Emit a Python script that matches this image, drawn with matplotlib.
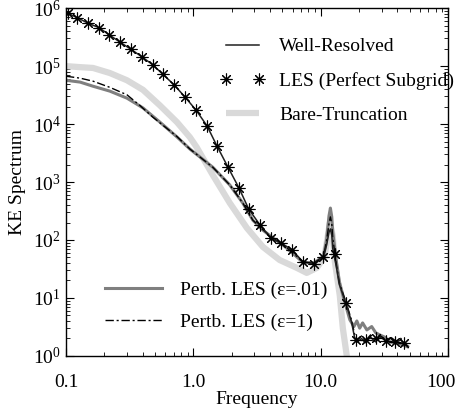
import matplotlib
matplotlib.use("Agg")
import matplotlib.pyplot as plt
import matplotlib.transforms as mtransforms
from matplotlib.ticker import FixedLocator, LogLocator, NullFormatter

plt.rcParams['font.family'] = ['Liberation Serif', 'DejaVu Serif']
plt.rcParams['mathtext.fontset'] = 'custom'
plt.rcParams['mathtext.rm'] = 'Liberation Serif'
plt.rcParams['mathtext.it'] = 'Liberation Serif:italic'
plt.rcParams['font.size'] = 14

# well-resolved spectrum
wr_freq = [0.1, 0.104, 0.122, 0.149, 0.182, 0.217, 0.265, 0.324, 0.394, 0.481, 0.577,
           0.703, 0.857, 1.05, 1.28, 1.53, 1.87, 2.28, 2.72, 3.33, 4.06, 4.85, 5.93,
           7.23, 8.81, 10.5, 11.1, 11.6, 11.9, 12.2, 12.4, 13.3, 14.0, 15.9, 17.4, 18.4, 19.4,
           20.9, 22.3, 24.6, 26.9, 29.5, 32.3, 35.4, 38.8, 42.5, 45.8, 48.0]
wr_spec = [8.6e5, 8.1e5, 6.9e5, 5.5e5, 4.6e5, 3.5e5, 2.6e5, 1.95e5, 1.45e5, 1.05e5, 7.2e4,
           4.8e4, 2.95e4, 1.74e4, 9.3e3, 4.2e3, 1.8e3, 790, 340, 182, 107, 89, 68,
           42, 39, 51, 81, 135, 155, 120, 72, 33, 17, 7.6, 3.9, 2.1, 1.74,
           2.0, 1.68, 2.1, 1.74, 2.1, 1.8, 2.0, 1.68, 1.9, 1.55, 1.5]

# LES with perfect subgrid (markers)
les_freq = [0.104, 0.122, 0.149, 0.182, 0.217, 0.265, 0.324, 0.394, 0.481, 0.577, 0.703,
            0.857, 1.05, 1.28, 1.53, 1.87, 2.28, 2.72, 3.33, 4.06, 4.85, 5.93, 7.23,
            8.81, 10.5, 12.9, 15.8, 18.8, 22.6, 27.2, 32.4, 38.5, 45.2]
les_spec = [8.1e5, 6.9e5, 5.5e5, 4.6e5, 3.5e5, 2.6e5, 1.95e5, 1.45e5, 1.05e5, 7.2e4, 4.8e4,
            2.95e4, 1.74e4, 9.3e3, 4.2e3, 1.8e3, 790, 340, 182, 107, 89, 68, 42,
            39, 51, 58, 8.1, 1.9, 1.9, 2.0, 1.8, 1.74, 1.66]

# bare truncation
bt_freq = [0.1, 0.129, 0.163, 0.221, 0.301, 0.402, 0.546, 0.743, 0.94, 1.06, 1.42, 1.93,
           2.63, 3.51, 4.76, 6.48, 7.76, 9.31, 10.7, 11.3, 11.8, 12.4, 12.9, 14.1,
           14.9, 16.0, 16.6]
bt_spec = [1.0e5, 9.6e4, 9.3e4, 7.6e4, 5.7e4, 3.9e4, 2.1e4, 1.08e4, 5.9e3, 4.0e3, 1.32e3, 435,
           161, 76, 45, 33, 27, 33, 51, 110, 200, 120, 42, 11,
           3.0, 1.0, 0.5]

# perturbed LES, eps = .01
p01_freq = [0.1, 0.129, 0.163, 0.221, 0.301, 0.402, 0.546, 0.743, 0.94, 1.06, 1.42, 1.93,
            2.44, 2.93, 3.51, 4.21, 5.04, 6.25, 7.23, 8.81, 10.5, 11.1, 11.6, 11.9, 12.2,
            12.4, 13.3, 14.0, 15.1, 16.9, 18.2, 19.2, 20.2,
            21.3, 23.0, 25.1, 27.0, 29.0, 31.8, 34.8, 39.5, 44.0, 48.1]
p01_spec = [5.7e4, 5.3e4, 4.5e4, 3.7e4, 2.8e4, 1.9e4, 1.08e4, 6.0e3, 3.7e3, 3.0e3, 1.8e3, 890,
            435, 219, 148, 108, 82, 55, 41, 40, 52, 100, 260, 355, 250,
            140, 40, 19, 10, 4.2, 3.2, 4.0, 3.0,
            3.7, 2.8, 3.2, 2.5, 2.3, 2.1, 1.74, 1.67, 1.55, 1.43]

# perturbed LES, eps = 1
p1_freq = [0.1, 0.129, 0.163, 0.221, 0.301, 0.38, 0.48, 0.743, 0.94, 1.06, 1.42, 1.93,
           2.44, 2.93, 3.51, 4.21, 5.04, 6.25, 7.23, 8.81, 10.5, 11.1, 11.6, 11.9, 12.2,
           12.4, 13.3, 14.0, 15.9, 17.4, 18.4, 19.4,
           20.9, 22.3, 24.6, 26.9, 29.5, 32.3, 35.4, 38.8, 42.5, 45.8, 48.0]
p1_spec = [6.7e4, 6.2e4, 5.5e4, 4.3e4, 3.2e4, 2.1e4, 1.32e4, 6.1e3, 3.7e3, 3.0e3, 1.8e3, 890,
           435, 219, 150, 108, 84, 56, 42, 40, 52, 95, 190, 250, 190,
           110, 36, 18, 8.0, 4.2, 2.4, 1.9,
           2.2, 1.8, 2.3, 1.9, 2.2, 1.9, 2.1, 1.8, 2.0, 1.6, 1.5]

fig = plt.figure(figsize=(4.55, 4.09), dpi=100)
ax = fig.add_axes([0.145, 0.13, 0.84, 0.85])

ax.plot(bt_freq, bt_spec, color='#d9d9d9', lw=4.5, solid_capstyle='butt', label='Bare-Truncation')
ax.plot(p01_freq, p01_spec, color='#7f7f7f', lw=2.2, label='Pertb. LES (\u03b5=.01)')
ax.plot(p1_freq, p1_spec, color='black', lw=1.0, ls=(0, (6, 2, 1.5, 2)), label='Pertb. LES (\u03b5=1)')
ax.plot(wr_freq, wr_spec, color='#202020', lw=1.1, label='Well-Resolved')
ax.plot(les_freq, les_spec, ls='none', marker=(8, 2, 0), ms=8.5, mew=0.8, color='black',
        label='LES (Perfect Subgrid)')

ax.set_xscale('log')
ax.set_yscale('log')
ax.set_xlim(0.1, 100)
ax.set_ylim(1, 1e6)

ax.xaxis.set_major_locator(FixedLocator([0.1, 1.0, 10.0, 100.0]))
ax.set_xticklabels(['0.1', '1.0', '10.0', '100'])
ax.xaxis.set_minor_locator(LogLocator(base=10, subs=range(2, 10), numticks=20))
ax.xaxis.set_minor_formatter(NullFormatter())
ax.yaxis.set_major_locator(FixedLocator([1, 10, 100, 1e3, 1e4, 1e5, 1e6]))
ax.set_yticklabels([r'$10^{%d}$' % k for k in range(7)])
ax.yaxis.set_minor_locator(LogLocator(base=10, subs=range(2, 10), numticks=20))
ax.yaxis.set_minor_formatter(NullFormatter())

ax.tick_params(which='both', direction='in', top=True, right=True, labelsize=14)
ax.tick_params(axis='x', which='major', pad=13)
ax.tick_params(which='major', length=5.5, width=0.8)
ax.tick_params(which='minor', length=3, width=0.6)
for s in ax.spines.values():
    s.set_linewidth(1.0)

# last x label sits a little left of its tick, as in the original
last = ax.get_xticklabels()[-1]
last.set_transform(last.get_transform() + mtransforms.ScaledTranslation(-7 / 100, 0, fig.dpi_scale_trans))

ax.set_xlabel('Frequency', fontsize=14, labelpad=0)
ax.set_ylabel('KE Spectrum', fontsize=14, labelpad=5)

h, l = ax.get_legend_handles_labels()
leg1 = ax.legend([h[3], h[4], h[0]], [l[3], l[4], l[0]], loc='upper left',
                 bbox_to_anchor=(0.382, 0.937), frameon=False, handlelength=2.3,
                 handletextpad=0.77, labelspacing=0.85, numpoints=2, fontsize=14,
                 borderaxespad=0)
ax.add_artist(leg1)
ax.legend([h[1], h[2]], [l[1], l[2]], loc='lower left', bbox_to_anchor=(0.081, 0.048),
          frameon=False, handlelength=2.94, handletextpad=0.93, labelspacing=0.78,
          fontsize=14, borderaxespad=0)

fig.savefig('out.png', dpi=100)
